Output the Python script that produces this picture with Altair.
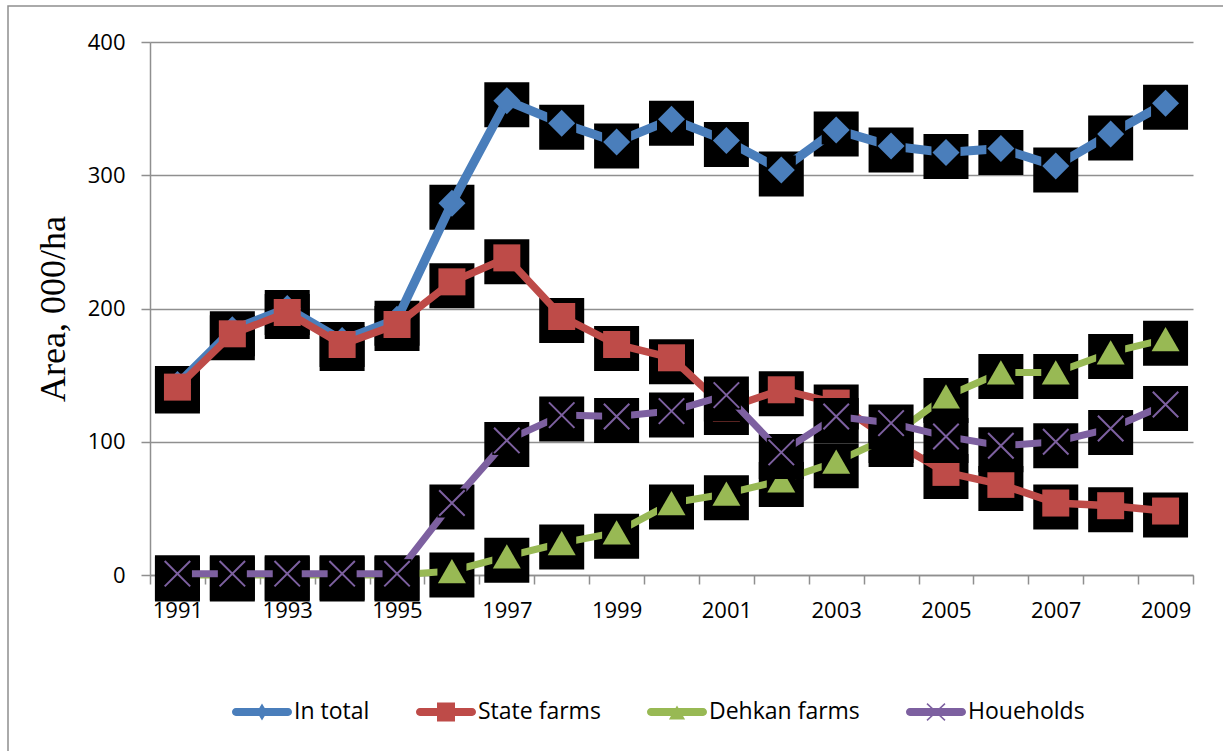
import altair as alt
import pandas as pd

# Sown area by farm category, thousand hectares
years = list(range(1991, 2010))
in_total = [143, 184, 200, 176, 192, 279, 356, 339, 325, 342, 326, 304, 334, 322, 317, 320, 307, 331, 354]
state_farms = [141, 181, 197, 173, 188, 220, 238, 194, 173, 163, 125, 139, 129, 101, 77, 68, 54, 52, 48]
dehkan_farms = [0, 0, 0, 0, 0, 3, 14, 24, 32, 54, 61, 71, 85, 104, 134, 152, 152, 167, 177]
households = [1, 1, 1, 1, 1, 54, 101, 120, 119, 123, 135, 92, 119, 114, 104, 97, 100, 110, 128]

series_names = ["In total", "State farms", "Dehkan farms", "Houeholds"]
series_colors = ["#4a7ebb", "#be4b48", "#98b954", "#7d60a0"]
y_ticks = [0, 100, 200, 300, 400]

GRID = "#8f8f8f"
W, H = 1043, 533

frames = {
    name: pd.DataFrame({"year": years, "value": vals, "series": name})
    for name, vals in zip(series_names, [in_total, state_farms, dehkan_farms, households])
}
df = pd.concat(frames.values(), ignore_index=True)

# category boundaries carry the ticks, labels sit in the middle of every other year
boundaries = [years[0] - 0.5 + i for i in range(len(years) + 1)]
band = W / len(years)

x_axis = alt.Axis(
    values=boundaries, grid=False, tickSize=9, tickColor=GRID, tickWidth=1.5,
    domainColor=GRID, domainWidth=1.5,
    labelExpr="(datum.value + 0.5) % 2 == 1 ? format(datum.value + 0.5, 'd') : ''",
    labelOffset=band / 2, labelOverlap=False, labelFlush=False, labelBound=False,
    labelFont="Open Sans", labelFontSize=22, labelColor="black", labelPadding=16, title=None,
)
y_axis = alt.Axis(
    values=y_ticks, grid=True, gridColor=GRID, gridWidth=1.4, tickSize=9, tickColor=GRID,
    tickWidth=1.5, domainColor=GRID, domainWidth=1.5, labelFont="Open Sans",
    labelFontSize=22, labelColor="black", labelPadding=16,
    title="Area, 000/ha", titleFont="Liberation Serif", titleFontSize=36,
    titleFontWeight="normal", titleColor="black", titlePadding=15,
)
x_enc = alt.X("year:Q", scale=alt.Scale(domain=[boundaries[0], boundaries[-1]], nice=False, zero=False), axis=x_axis)
y_enc = alt.Y("value:Q", scale=alt.Scale(domain=[0, 400], nice=False), axis=y_axis)


def line_layer(data, color, width):
    return alt.Chart(data).mark_line(
        color=color, strokeWidth=width, strokeCap="butt", strokeJoin="round"
    ).encode(x=x_enc, y=y_enc)


def box_layer(data, size=2025, offset=4):
    """Black square drawn behind a marker (large backdrop or small halo that breaks the line)."""
    return alt.Chart(data).mark_square(size=size, color="black", opacity=1, yOffset=offset).encode(x=x_enc, y=y_enc)


def halo_layer(data):
    return box_layer(data, size=841, offset=0)


def marker_layer(data, color, shape, size, filled=True, stroke_width=1.0):
    return alt.Chart(data).mark_point(
        shape=shape, size=size, filled=filled, color=color, opacity=1, strokeWidth=stroke_width
    ).encode(x=x_enc, y=y_enc)


total = frames["In total"]
state = frames["State farms"]
dehkan = frames["Dehkan farms"]
house = frames["Houeholds"]

X_PATH = "M-1,-1L1,1M-1,1L1,-1"

layers = [
    box_layer(total),
    box_layer(state),
    line_layer(total, series_colors[0], 9),
    halo_layer(total[total.year > 1997]),
    marker_layer(total, series_colors[0], "diamond", 729),
    line_layer(state, series_colors[1], 7.5),
    marker_layer(state, series_colors[1], "square", 729),
    box_layer(dehkan),
    line_layer(dehkan, series_colors[2], 7),
    halo_layer(dehkan),
    marker_layer(dehkan, series_colors[2], "triangle-up", 784),
    box_layer(house),
    line_layer(house, series_colors[3], 7),
    halo_layer(house),
    marker_layer(house, series_colors[3], X_PATH, 650, filled=False, stroke_width=2),
]

# legend glyphs: a rounded line segment with the series marker on it
LINE = "M-0.87,-0.13L0.87,-0.13A0.13,0.13 0 0 1 0.87,0.13L-0.87,0.13A0.13,0.13 0 0 1 -0.87,-0.13Z"
legend_paths = [
    LINE + "M0,-0.28L0.17,0L0,0.28L-0.17,0Z",
    LINE + "M-0.3,-0.32L0.3,-0.32L0.3,0.32L-0.3,0.32Z",
    LINE + "M0,-0.22L0.27,0.25L-0.27,0.25Z",
    LINE + "M-0.283,-0.298L0.317,0.262L0.283,0.298L-0.317,-0.262Z"
    "M-0.283,0.298L-0.317,0.262L0.283,-0.298L0.317,-0.262Z",
]

legend = alt.Legend(
    title=None, orient="none", legendX=82, legendY=640, direction="horizontal",
    symbolSize=3600, symbolStrokeWidth=0, labelFont="Open Sans", labelFontSize=23,
    labelColor="black", labelOffset=2, columnPadding=45, padding=0,
)
legend_layer = alt.Chart(df).mark_point(filled=True, opacity=1).encode(
    x=x_enc, y=y_enc,
    color=alt.Color("series:N", scale=alt.Scale(domain=series_names, range=series_colors), legend=legend),
    shape=alt.Shape("series:N", scale=alt.Scale(domain=series_names, range=legend_paths), legend=legend),
).transform_filter("datum.value > 100000")

# outer chart-area border
frame = alt.Chart(pd.DataFrame({"k": [0]})).mark_rect(
    fill="transparent", stroke=GRID, strokeWidth=1.5
).encode(x=alt.value(-142), x2=alt.value(1090), y=alt.value(-36), y2=alt.value(725))

chart = alt.layer(frame, *layers, legend_layer).properties(
    width=W, height=H,
    autosize=alt.AutoSizeParams(type="none"),
    padding={"left": 150, "top": 42, "right": 30, "bottom": 176},
    background="white",
).configure_view(stroke=None)

chart.save("out.html", embed_options={"renderer": "svg", "actions": False})
